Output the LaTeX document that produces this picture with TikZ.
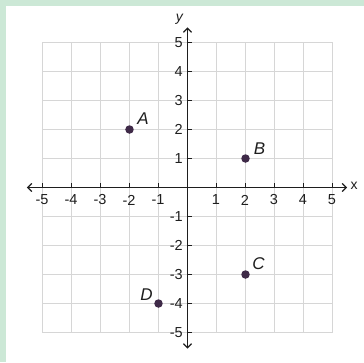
\documentclass[tikz,border=0pt]{standalone}
\usepackage{fontspec}
\setmainfont{Liberation Sans}
\usetikzlibrary{arrows.meta}
\definecolor{bggreen}{HTML}{CCE8D6}
\definecolor{gridgray}{HTML}{D6D6D6}
\definecolor{dotcol}{HTML}{3F2A48}
\definecolor{axcol}{HTML}{1E1E1E}
\tikzset{
  gridline/.style={draw=gridgray,line width=1.4pt},
  axisline/.style={draw=axcol,line width=1.2pt,{Straight Barb[length=4pt,width=8pt]}-{Straight Barb[length=4pt,width=8pt]}},
  tickmark/.style={draw=axcol,line width=1.1pt},
  ticklab/.style={inner sep=0pt,font=\fontsize{14.5}{15}\selectfont,text=axcol},
  ptdot/.style={circle,fill=dotcol,inner sep=0pt,minimum size=8.5pt},
  ptlab/.style={inner sep=0pt,font=\fontsize{17}{18}\selectfont\itshape,text=axcol},
  axlab/.style={inner sep=0pt,text=axcol}
}
\begin{document}
\begin{tikzpicture}[x=29pt,y=29pt]
\useasboundingbox (-187.5pt,187.5pt) rectangle (176.5pt,-174.5pt);
\fill[bggreen] (-187.5pt,187.5pt) rectangle (176.5pt,-174.5pt);
\fill[white] (-181.5pt,181.5pt) rectangle (176.5pt,-174.5pt);
% grid
\foreach \i in {-5,...,5} {
  \draw[gridline] (\i,-5) -- (\i,5);
  \draw[gridline] (-5,\i) -- (5,\i);
}
% axes
\coordinate (xl) at (-160.5pt,0);
\coordinate (xr) at (159.5pt,0);
\coordinate (yt) at (0,160pt);
\coordinate (yb) at (0,-161pt);
\draw[axisline] (xl) -- (xr);
\draw[axisline] (yb) -- (yt);
\node[axlab,font=\fontsize{14}{15}\selectfont] (xlab) at (166.5pt,2pt) {x};
\node[axlab,font=\fontsize{14}{15}\selectfont\itshape] (ylab) at (-8pt,168pt) {y};
% ticks and labels
\foreach \i in {-5,-4,-3,-2,-1,1,2,3,4,5} {
  \draw[tickmark] (\i,0) -- ++(0,5pt);
  \draw[tickmark] (0,\i) -- ++(5pt,0);
  \node[ticklab] (tx\i) at ([xshift=-0.5pt,yshift=-12.5pt]\i,0) {\i};
  \node[ticklab,anchor=east] (ty\i) at ([xshift=-4.5pt]0,\i) {\i};
}
% points
\node[ptdot] (A) at (-2,2) {};
\node[ptdot] (B) at (2,1) {};
\node[ptdot] (C) at (2,-3) {};
\node[ptdot] (D) at (-1,-4) {};
\node[ptlab] (lA) at ([xshift=13.5pt,yshift=10.5pt]A.center) {A};
\node[ptlab] (lB) at ([xshift=14pt,yshift=9.5pt]B.center) {B};
\node[ptlab] (lC) at ([xshift=13pt,yshift=11pt]C.center) {C};
\node[ptlab] (lD) at ([xshift=-12pt,yshift=9pt]D.center) {D};
\end{tikzpicture}
\end{document}
